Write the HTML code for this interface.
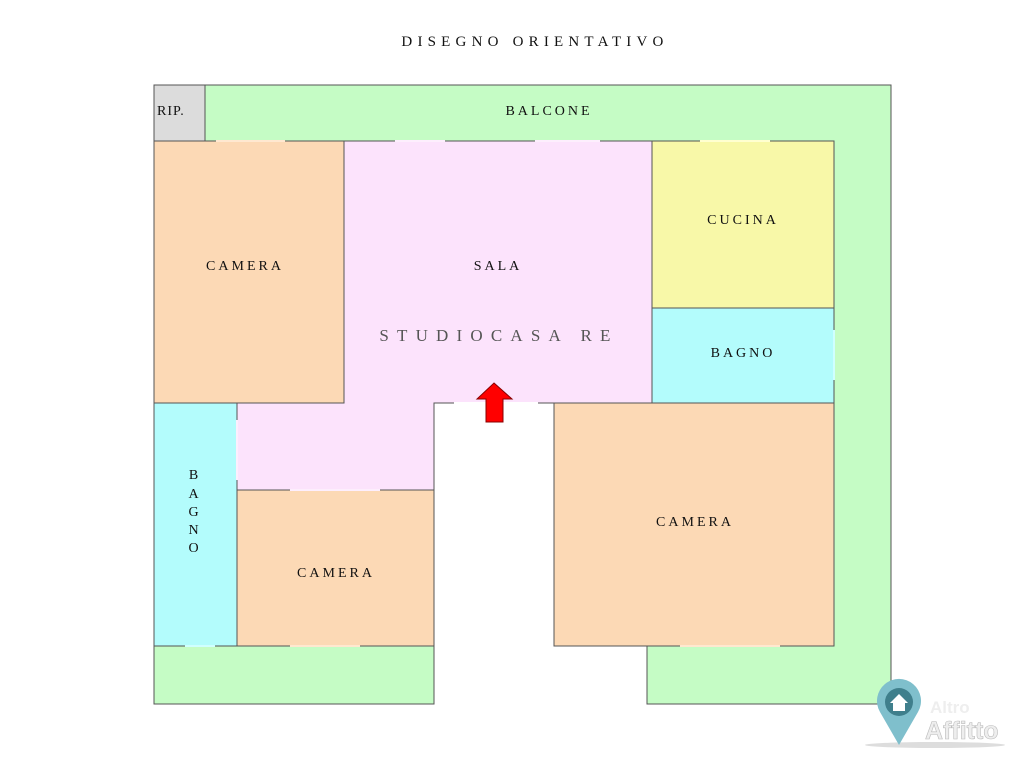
<!DOCTYPE html>
<html><head><meta charset="utf-8"><style>
body{margin:0;background:#fff;width:1024px;height:763px;overflow:hidden}
svg text{font-family:"Liberation Serif",serif;font-size:14px;fill:#111;letter-spacing:3px}
</style></head><body>
<svg width="1024" height="763" viewBox="0 0 1024 763">
<text x="535" y="46" text-anchor="middle" style="font-size:15px;letter-spacing:5.2px">DISEGNO ORIENTATIVO</text>
<g stroke="#555" stroke-width="1">
<polygon points="205,85 891,85 891,704 647,704 647,646 834,646 834,141 205,141" fill="#c5fcc5"/>
<rect x="154" y="646" width="280" height="58" fill="#c5fcc5"/>
<rect x="154" y="85" width="51" height="56" fill="#dcdcdc"/>
<rect x="154" y="141" width="190" height="262" fill="#fcd9b5"/>
<polygon points="344,141 652,141 652,403 434,403 434,490 237,490 237,403 344,403" fill="#fce3fc"/>
<rect x="652" y="141" width="182" height="167" fill="#f8f8a8"/>
<rect x="652" y="308" width="182" height="95" fill="#b3fcfc"/>
<rect x="554" y="403" width="280" height="243" fill="#fcd9b5"/>
<rect x="154" y="403" width="83" height="243" fill="#b3fcfc"/>
<rect x="237" y="490" width="197" height="156" fill="#fcd9b5"/>
</g>
<g stroke="#f3fff3" stroke-width="2">
<line x1="216" y1="141" x2="285" y2="141" stroke="#ffe8d0"/>
<line x1="395" y1="141" x2="445" y2="141" stroke="#fdeefd"/>
<line x1="535" y1="141" x2="600" y2="141" stroke="#fdeefd"/>
<line x1="700" y1="141" x2="770" y2="141" stroke="#ffffd0"/>
<line x1="454" y1="403" x2="538" y2="403" stroke="#fff"/>
<line x1="834" y1="330" x2="834" y2="380" stroke="#d0ffff"/>
<line x1="185" y1="646" x2="215" y2="646" stroke="#d0ffff"/>
<line x1="290" y1="646" x2="360" y2="646" stroke="#ffe8d0"/>
<line x1="680" y1="646" x2="780" y2="646" stroke="#ffe8d0"/>
<line x1="290" y1="490" x2="380" y2="490" stroke="#fdeefd"/>
<line x1="237" y1="420" x2="237" y2="480" stroke="#fdeefd"/>
</g>
<polygon points="494,383 512,399 503,399 503,422 486,422 486,399 477,399" fill="#f00" stroke="#800" stroke-width="1"/>
<text x="157" y="115" style="letter-spacing:1px">RIP.</text>
<text x="549" y="115" text-anchor="middle">BALCONE</text>
<text x="245" y="270" text-anchor="middle">CAMERA</text>
<text x="498" y="270" text-anchor="middle">SALA</text>
<text x="499" y="341" text-anchor="middle" style="font-size:17px;letter-spacing:8.2px;fill:#555">STUDIOCASA RE</text>
<text x="743" y="224" text-anchor="middle">CUCINA</text>
<text x="743" y="357" text-anchor="middle">BAGNO</text>
<text x="695" y="526" text-anchor="middle">CAMERA</text>
<text x="336" y="577" text-anchor="middle">CAMERA</text>
<g text-anchor="middle"><text x="195" y="479">B</text><text x="195" y="498">A</text><text x="195" y="516">G</text><text x="195" y="534">N</text><text x="195" y="552">O</text></g>
<ellipse cx="935" cy="745" rx="70" ry="3" fill="#ddd"/>
<path d="M899,745 L880,712 A22,22 0 1 1 918,712 Z" fill="#7fbfcc"/>
<circle cx="899" cy="702" r="14" fill="#3f7f8c"/>
<path d="M890,703 L899,694 L908,703 L905,703 L905,711 L893,711 L893,703 Z" fill="#fff"/>
<text x="930" y="713" style="font-family:'Liberation Sans',sans-serif;font-size:17px;font-weight:bold;fill:#eee;letter-spacing:0">Altro</text>
<text x="925" y="739" style="font-family:'Liberation Sans',sans-serif;font-size:25px;font-weight:bold;fill:#eee;letter-spacing:0;stroke:#bbb;stroke-width:0.6">Affitto</text>
</svg>
</body></html>
